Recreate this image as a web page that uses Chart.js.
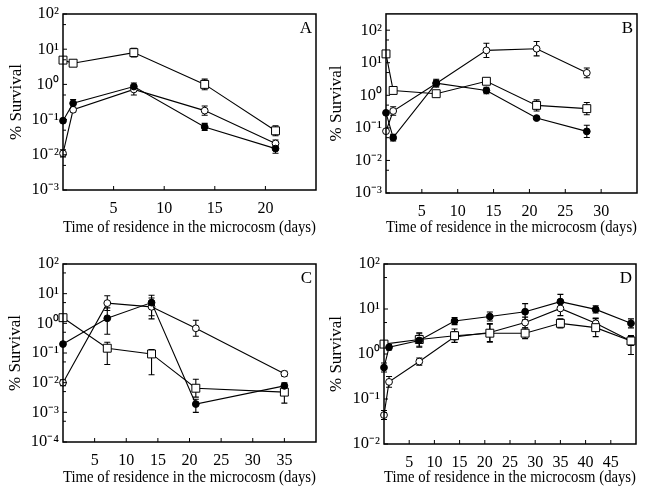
<!DOCTYPE html>
<html>
<head>
<meta charset="utf-8">
<script src="https://cdn.jsdelivr.net/npm/chart.js@4/dist/chart.umd.min.js"></script>
<style>
  html, body { margin: 0; padding: 0; background: #fff; }
  #wrap { position: relative; width: 648px; height: 495px; background: #fff; }
  canvas { position: absolute; }
</style>
</head>
<body>
<div id="wrap">
  <canvas id="cA" width="324" height="240" style="left:0;top:0"></canvas>
  <canvas id="cB" width="324" height="240" style="left:324px;top:0"></canvas>
  <canvas id="cC" width="324" height="255" style="left:0;top:240px"></canvas>
  <canvas id="cD" width="324" height="255" style="left:324px;top:240px"></canvas>
</div>
<script>
// ---------------- DATA ----------------
const xTitle = 'Time of residence in the microcosm (days)';
const yTitle = '% Survival';

// Panel A
const daysA = [0, 1, 7, 14, 21];
const A_openCircle   = [0.011, 0.19, 0.72, 0.18, 0.021];
const A_filledCircle = [0.093, 0.29, 0.87, 0.062, 0.015];
const A_openSquare   = [4.9, 4.0, 8.0, 1.0, 0.048];
const A_openCircleErr   = [0.1, 0.06, [0.16, 0.1], 0.13, 0.1];
const A_filledCircleErr = [0.05, 0.11, 0.1, 0.1, 0.13];
const A_openSquareErr   = [0.04, 0.05, 0.12, 0.15, 0.14];
const xTicksA = [5, 10, 15, 20];
const yExpA = [-3, -2, -1, 0, 1, 2];

// Panel B
const daysB = [0, 1, 7, 14, 21, 28];
const B_openCircle   = [0.079, 0.33, 2.3, 24, 27, 4.9];
const B_filledCircle = [0.29, 0.05, 2.37, 1.41, 0.2, 0.078];
const B_openSquare   = [18.7, 1.41, 1.12, 2.7, 0.49, 0.39];
const B_openCircleErr   = [0.05, 0.13, 0.1, 0.22, 0.22, 0.15];
const B_filledCircleErr = [0.04, 0.1, 0.12, 0.1, 0.04, 0.19];
const B_openSquareErr   = [0.04, 0.04, 0.08, 0.08, 0.17, 0.19];
const xTicksB = [5, 10, 15, 20, 25, 30];
const yExpB = [-3, -2, -1, 0, 1, 2];

// Panel C
const daysC = [0, 7, 14, 21, 35];
const C_openCircle   = [0.01, 4.8, 3.6, 0.68, 0.02];
const C_filledCircle = [0.2, 1.48, 5.0, 0.0019, 0.0078];
const C_openSquare   = [1.55, 0.145, 0.093, 0.0065, 0.0048];
const C_openCircleErr   = [0.1, 0.25, 0.3, 0.27, 0.08];
const C_filledCircleErr = [0.05, [0.54, 0.35], [0.55, 0.25], [0.28, 0.16], 0.1];
const C_openSquareErr   = [0.08, [0.55, 0.2], [0.7, 0.15], [0.3, 0.3], [0.37, 0.2]];
const xTicksC = [5, 10, 15, 20, 25, 30, 35];
const yExpC = [-4, -3, -2, -1, 0, 1, 2];

// Panel D
const daysD = [0, 1, 7, 14, 21, 28, 35, 42, 49];
const D_openCircle   = [0.044, 0.24, 0.68, 2.4, 3.0, 5.0, 10.3, 4.8, 1.95];
const D_filledCircle = [0.5, 1.41, 2.0, 5.4, 6.8, 8.7, 14.6, 9.8, 4.8];
const D_openSquare   = [1.66, null, 2.1, 2.55, 2.9, 2.9, 4.8, 3.85, 1.95];
const D_openCircleErr   = [0.1, 0.12, 0.08, 0.12, 0.2, 0.12, 0.16, 0.12, 0.1];
const D_filledCircleErr = [0.1, 0.06, 0.15, 0.08, 0.1, 0.18, 0.16, 0.08, 0.1];
const D_openSquareErr   = [0.04, 0, 0.15, 0.15, 0.2, 0.12, 0.1, 0.2, [0.3, 0.12]];
const xTicksD = [5, 10, 15, 20, 25, 30, 35, 40, 45];
const yExpD = [-2, -1, 0, 1, 2];

// ---------------- RENDERING ----------------
const FONT = "'Liberation Serif', 'Times New Roman', serif";
const SUP = {'-': '\u207B', '0': '\u2070', '1': '\u00B9', '2': '\u00B2', '3': '\u00B3', '4': '\u2074'};
function pow10Label(e) { return '10' + String(e).split('').map(c => SUP[c]).join(''); }

function toPoints(days, vals) {
  const out = [];
  days.forEach((d, i) => { if (vals[i] !== null) out.push({x: d, y: vals[i], k: i}); });
  return out;
}

const errBarPlugin = {
  id: 'errBars',
  beforeDatasetsDraw(chart) {
    const ctx = chart.ctx, ys = chart.scales.y;
    ctx.save();
    ctx.strokeStyle = '#000';
    ctx.lineWidth = 1.1;
    chart.data.datasets.forEach((ds, di) => {
      const meta = chart.getDatasetMeta(di);
      ds.data.forEach((p, j) => {
        const e = ds.errs[p.k];
        if (!e) return;
        const dn = Array.isArray(e) ? e[0] : e;
        const up = Array.isArray(e) ? e[1] : e;
        const x = meta.data[j].x;
        const yHi = ys.getPixelForValue(p.y * Math.pow(10, up));
        const yLo = ys.getPixelForValue(p.y * Math.pow(10, -dn));
        ctx.beginPath();
        ctx.moveTo(x, yHi); ctx.lineTo(x, yLo);
        ctx.moveTo(x - 3, yHi); ctx.lineTo(x + 3, yHi);
        ctx.moveTo(x - 3, yLo); ctx.lineTo(x + 3, yLo);
        ctx.stroke();
      });
    });
    ctx.restore();
  }
};

const framePlugin = {
  id: 'frame',
  afterDraw(chart, args, opts) {
    const ctx = chart.ctx, a = chart.chartArea;
    const xs = chart.scales.x, ys = chart.scales.y;
    ctx.save();
    ctx.strokeStyle = '#000';
    ctx.lineWidth = 1.5;
    ctx.strokeRect(a.left, a.top, a.right - a.left, a.bottom - a.top);
    ctx.lineWidth = 1;
    ctx.beginPath();
    xs.ticks.forEach(t => {
      const px = xs.getPixelForValue(t.value);
      ctx.moveTo(px, a.bottom); ctx.lineTo(px, a.bottom - 4);
    });
    ys.ticks.forEach(t => {
      const py = ys.getPixelForValue(t.value);
      ctx.moveTo(a.left, py); ctx.lineTo(a.left + 4, py);
      const pm = ys.getPixelForValue(t.value * 5);
      if (pm > a.top + 1) { ctx.moveTo(a.left, pm); ctx.lineTo(a.left + 3, pm); }
    });
    ctx.stroke();
    ctx.fillStyle = '#000';
    ctx.font = '17px ' + FONT;
    ctx.textAlign = 'right';
    ctx.textBaseline = 'middle';
    ctx.fillText(opts.letter, a.right - 4, a.top + 15);
    ctx.restore();
  }
};

function seriesStyle(kind) {
  const base = {borderColor: '#000', borderWidth: 1.1, tension: 0, clip: false,
                pointBorderColor: '#000', pointBorderWidth: 1, pointHoverRadius: 4};
  if (kind === 'open') return Object.assign(base, {pointStyle: 'circle', pointRadius: 3.4, pointBackgroundColor: '#fff'});
  if (kind === 'filled') return Object.assign(base, {pointStyle: 'circle', pointRadius: 3.4, pointBackgroundColor: '#000'});
  return Object.assign(base, {pointStyle: 'rect', pointRadius: 5.6, pointBackgroundColor: '#fff'});
}

function makePanel(id, p) {
  const datasets = [
    Object.assign(seriesStyle('filled'), {label: 'filled circle', data: toPoints(p.days, p.filled), errs: p.filledErr}),
    Object.assign(seriesStyle('square'), {label: 'open square', data: toPoints(p.days, p.square), errs: p.squareErr}),
    Object.assign(seriesStyle('open'), {label: 'open circle', data: toPoints(p.days, p.open), errs: p.openErr})
  ];
  new Chart(document.getElementById(id), {
    type: 'line',
    data: {datasets},
    options: {
      responsive: false,
      animation: false,
      spanGaps: true,
      layout: {padding: {left: 0, top: p.top, right: p.right, bottom: 0}},
      plugins: {legend: {display: false}, tooltip: {enabled: false}, frame: {letter: p.letter}},
      scales: {
        x: {
          type: 'linear', min: 0, max: p.xMax,
          grid: {display: false, drawTicks: false},
          border: {display: false},
          afterBuildTicks: s => { s.ticks = p.xTicks.map(v => ({value: v})); },
          afterFit: s => { s.height = p.xH; },
          ticks: {color: '#000', font: {family: FONT, size: 16}, padding: 9, maxRotation: 0, autoSkip: false,
                  callback: v => String(v)},
          title: {display: true, text: xTitle, color: '#000', font: {family: FONT, size: 16.5},
                  padding: {top: 0, bottom: p.xTitlePad}}
        },
        y: {
          type: 'logarithmic', min: p.yMin, max: p.yMax,
          grid: {display: false, drawTicks: false},
          border: {display: false},
          afterBuildTicks: s => { s.ticks = p.yExp.map(e => ({value: Math.pow(10, e)})); },
          afterFit: s => { s.width = p.yW; },
          ticks: {color: '#000', font: {family: FONT, size: 16.5}, padding: 4, autoSkip: false,
                  callback: v => pow10Label(Math.round(Math.log10(v)))},
          title: {display: true, text: yTitle, color: '#000', font: {family: FONT, size: 17},
                  padding: {top: p.yTitlePad, bottom: 0}}
        }
      }
    },
    plugins: [errBarPlugin, framePlugin]
  });
}

makePanel('cA', {days: daysA, open: A_openCircle, filled: A_filledCircle, square: A_openSquare,
  openErr: A_openCircleErr, filledErr: A_filledCircleErr, squareErr: A_openSquareErr,
  xTicks: xTicksA, yExp: yExpA, xMax: 25, yMin: 1e-3, yMax: 1e2, letter: 'A',
  top: 14, right: 8, yW: 63, xH: 50, xTitlePad: 2, yTitlePad: 6});
makePanel('cB', {days: daysB, open: B_openCircle, filled: B_filledCircle, square: B_openSquare,
  openErr: B_openCircleErr, filledErr: B_filledCircleErr, squareErr: B_openSquareErr,
  xTicks: xTicksB, yExp: yExpB, xMax: 35, yMin: 1e-3, yMax: Math.pow(10, 2.5), letter: 'B',
  top: 13, right: 11, yW: 62, xH: 47, xTitlePad: 2, yTitlePad: 2});
makePanel('cC', {days: daysC, open: C_openCircle, filled: C_filledCircle, square: C_openSquare,
  openErr: C_openCircleErr, filledErr: C_filledCircleErr, squareErr: C_openSquareErr,
  xTicks: xTicksC, yExp: yExpC, xMax: 40, yMin: 1e-4, yMax: 1e2, letter: 'C',
  top: 24, right: 8, yW: 63, xH: 53, xTitlePad: 7, yTitlePad: 5});
makePanel('cD', {days: daysD, open: D_openCircle, filled: D_filledCircle, square: D_openSquare,
  openErr: D_openCircleErr, filledErr: D_filledCircleErr, squareErr: D_openSquareErr,
  xTicks: xTicksD, yExp: yExpD, xMax: 50, yMin: 1e-2, yMax: 1e2, letter: 'D',
  top: 24, right: 12, yW: 60, xH: 51, xTitlePad: 7, yTitlePad: 2});
</script>
</body>
</html>
